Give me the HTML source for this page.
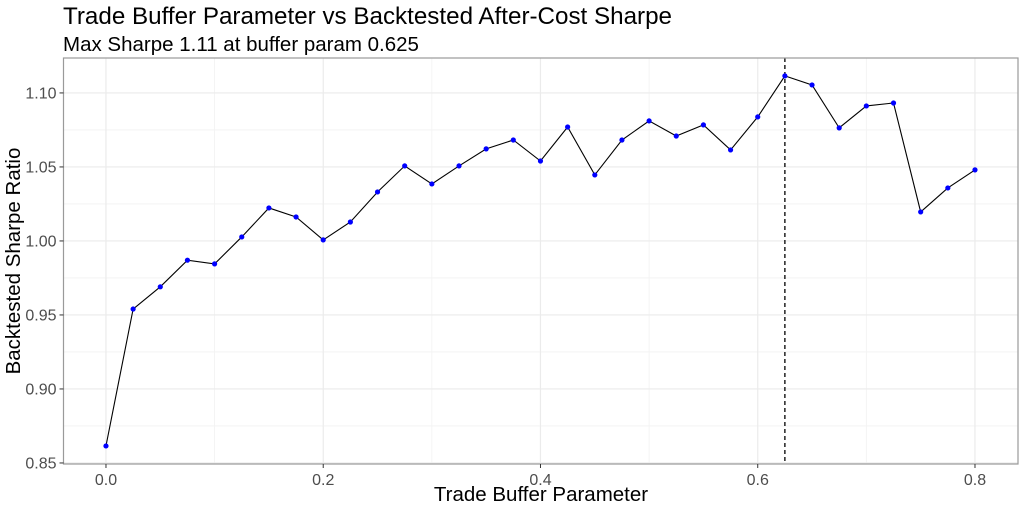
<!DOCTYPE html>
<html><head><meta charset="utf-8"><style>
body{margin:0;background:#fff;font-family:"Liberation Sans",sans-serif}
</style></head><body>
<svg id="chart" width="1024" height="512" xmlns="http://www.w3.org/2000/svg">
<text x="63" y="24" font-size="24.2" fill="#000">Trade Buffer Parameter vs Backtested After-Cost Sharpe</text>
<text x="63" y="51" font-size="20.5" fill="#000">Max Sharpe 1.11 at buffer param 0.625</text>
<g id="grid"></g>
<g id="marks"></g>
<rect x="63.5" y="58" width="954.5" height="406" fill="none" stroke="#9a9a9a" stroke-width="1.2"/>
<g id="axes"></g>
<text x="541" y="501" font-size="20.5" text-anchor="middle" fill="#000">Trade Buffer Parameter</text>
<text transform="translate(20,261) rotate(-90)" font-size="20.5" text-anchor="middle" fill="#000">Backtested Sharpe Ratio</text>
</svg>
<script>
const xValues=[0,0.025,0.05,0.075,0.1,0.125,0.15,0.175,0.2,0.225,0.25,0.275,0.3,0.325,0.35,0.375,0.4,0.425,0.45,0.475,0.5,0.525,0.55,0.575,0.6,0.625,0.65,0.675,0.7,0.725,0.75,0.775,0.8];
const sharpeValues=[0.8615,0.954,0.969,0.987,0.9845,1.0027,1.0223,1.0162,1.0007,1.0128,1.0331,1.0507,1.0385,1.0507,1.0622,1.0682,1.054,1.077,1.0446,1.0682,1.0811,1.0709,1.0784,1.0615,1.0838,1.1115,1.1054,1.0764,1.0912,1.0932,1.0196,1.0358,1.048];
const xTicks=[0,0.2,0.4,0.6,0.8];
const xTickLabels=["0.0","0.2","0.4","0.6","0.8"];
const yTicks=[0.85,0.9,0.95,1.0,1.05,1.1];
const yTickLabels=["0.85","0.90","0.95","1.00","1.05","1.10"];
const maxX=0.625;
const X0=63.5,X1=1018,Y0=464,Y1=58;
const xMin=-0.0391,xMax=0.8396,yMin=0.8493,yMax=1.1236;
const sx=v=>X0+(v-xMin)/(xMax-xMin)*(X1-X0);
const sy=v=>Y0-(v-yMin)/(yMax-yMin)*(Y0-Y1);
const NS="http://www.w3.org/2000/svg";
function mk(tag,parent,attrs){const e=document.createElementNS(NS,tag);for(const k in attrs)e.setAttribute(k,attrs[k]);document.getElementById(parent).appendChild(e);return e;}
for(let i=0;i<xTicks.length-1;i++){const m=(xTicks[i]+xTicks[i+1])/2;const l=mk('line','grid',{x1:sx(m),x2:sx(m),y1:Y1,y2:Y0,stroke:'#f2f2f2','stroke-width':0.8});

}
for(let i=0;i<yTicks.length-1;i++){const m=(yTicks[i]+yTicks[i+1])/2;const l=mk('line','grid',{x1:X0,x2:X1,y1:sy(m),y2:sy(m),stroke:'#f2f2f2','stroke-width':0.8});

}
xTicks.forEach((t,i)=>{const l=mk('line','grid',{x1:sx(t),x2:sx(t),y1:Y1,y2:Y0,stroke:'#ebebeb','stroke-width':1.2});


const k=mk('line','axes',{x1:sx(t),x2:sx(t),y1:Y0,y2:Y0+4,stroke:'#333','stroke-width':1});


const tx=mk('text','axes',{x:sx(t),y:Y0+21,'font-size':16,'text-anchor':'middle',fill:'#4d4d4d'});tx.textContent=xTickLabels[i];

});
yTicks.forEach((t,i)=>{const l=mk('line','grid',{x1:X0,x2:X1,y1:sy(t),y2:sy(t),stroke:'#ebebeb','stroke-width':1.2});


const k=mk('line','axes',{x1:X0-4,x2:X0,y1:sy(t),y2:sy(t),stroke:'#333','stroke-width':1});


const tx=mk('text','axes',{x:X0-7,y:sy(t)+5.5,'font-size':16,'text-anchor':'end',fill:'#4d4d4d'});tx.textContent=yTickLabels[i];

});
const vl=mk('line','marks',{x1:sx(maxX),x2:sx(maxX),y1:Y1,y2:Y0,stroke:'#000','stroke-width':1.3,'stroke-dasharray':'4,3'});


const pl=mk('polyline','marks',{points:xValues.map((x,i)=>sx(x)+','+sy(sharpeValues[i])).join(' '),fill:'none',stroke:'#000','stroke-width':1.1});


xValues.forEach((x,i)=>{const c=mk('circle','marks',{cx:sx(x),cy:sy(sharpeValues[i]),r:2.6,fill:'#0000ff'});

});
</script>
</body></html>
